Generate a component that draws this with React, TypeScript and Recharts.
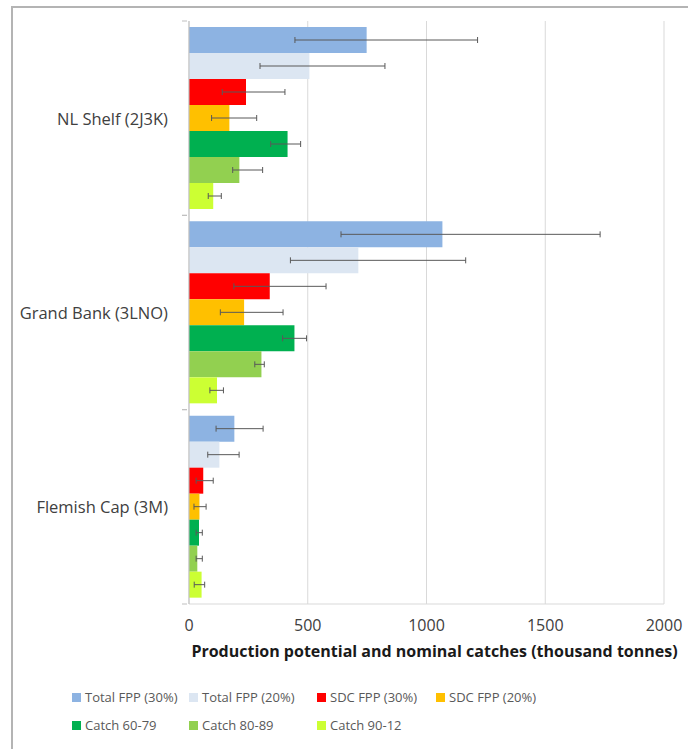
import { BarChart, Bar, XAxis, YAxis, CartesianGrid, ErrorBar, Legend } from 'recharts';

const regions = ['NL Shelf (2J3K)', 'Grand Bank (3LNO)', 'Flemish Cap (3M)'];

// bar values and error-bar ends (thousand tonnes), one entry per region
const totalFpp30 = [748, 1067, 191];
const totalFpp30Low = [446, 640, 114];
const totalFpp30High = [1215, 1731, 312];

const totalFpp20 = [507, 713, 128];
const totalFpp20Low = [299, 427, 79];
const totalFpp20High = [825, 1165, 211];

const sdcFpp30 = [240, 340, 60];
const sdcFpp30Low = [140, 189, 30];
const sdcFpp30High = [404, 577, 102];

const sdcFpp20 = [170, 232, 44];
const sdcFpp20Low = [95, 132, 21];
const sdcFpp20High = [285, 396, 72];

const catch6079 = [415, 444, 42];
const catch6079Low = [344, 394, 30];
const catch6079High = [470, 495, 56];

const catch8089 = [212, 305, 35];
const catch8089Low = [184, 277, 30];
const catch8089High = [310, 317, 56];

const catch9012 = [102, 118, 53];
const catch9012Low = [81, 88, 22];
const catch9012High = [136, 145, 66];

const xTicks = [0, 500, 1000, 1500, 2000];

const series = [
    { key: 'total30', name: 'Total FPP (30%)', color: '#8db3e2', values: totalFpp30, low: totalFpp30Low, high: totalFpp30High },
    { key: 'total20', name: 'Total FPP (20%)', color: '#dce6f2', values: totalFpp20, low: totalFpp20Low, high: totalFpp20High },
    { key: 'sdc30', name: 'SDC FPP (30%)', color: '#ff0000', values: sdcFpp30, low: sdcFpp30Low, high: sdcFpp30High },
    { key: 'sdc20', name: 'SDC FPP (20%)', color: '#ffc000', values: sdcFpp20, low: sdcFpp20Low, high: sdcFpp20High },
    { key: 'c6079', name: 'Catch 60-79', color: '#00b050', values: catch6079, low: catch6079Low, high: catch6079High },
    { key: 'c8089', name: 'Catch 80-89', color: '#92d050', values: catch8089, low: catch8089Low, high: catch8089High },
    { key: 'c9012', name: 'Catch 90-12', color: '#ccff33', values: catch9012, low: catch9012Low, high: catch9012High },
];

const data = regions.map((region, i) => {
    const row: Record<string, any> = { region };
    series.forEach((s) => {
        row[s.key] = s.values[i];
        row[s.key + 'Err'] = [s.values[i] - s.low[i], s.high[i] - s.values[i]];
    });
    return row;
});

const W = 688;
const H = 749;
const MARGIN = { top: 21, right: 24, left: 0, bottom: 85 };
const X_AXIS_H = 60;
const BAND = (H - MARGIN.top - MARGIN.bottom - X_AXIS_H) / regions.length;
const FONT = '"Open Sans", sans-serif';

const RegionTick = ({ x, y, payload }: any) => (
    <g>
        <text x={x - 19} y={y} textAnchor="end" dominantBaseline="central" fontSize={16.5} fill="#404040">
            {payload.value}
        </text>
        <line x1={x - 5} x2={x} y1={y - BAND / 2} y2={y - BAND / 2} stroke="#bfbfbf" />
        <line x1={x - 5} x2={x} y1={y + BAND / 2} y2={y + BAND / 2} stroke="#bfbfbf" />
    </g>
);

const LegendBox = () => (
    <div style={{ display: 'grid', gridTemplateColumns: '117px 128px 119px 120px', rowGap: 10, fontSize: 13, color: '#595959', fontFamily: FONT }}>
        {series.map((s) => (
            <div key={s.key} style={{ display: 'flex', alignItems: 'center', height: 18 }}>
                <span style={{ width: 9, height: 9, background: s.color, marginRight: 4, display: 'inline-block' }} />
                <span>{s.name}</span>
            </div>
        ))}
    </div>
);

export default function App() {
    return (
        <div style={{ position: 'fixed', top: 0, left: 0, width: W, height: H, background: '#fff', overflow: 'hidden' }}>
            <div style={{ position: 'absolute', top: 6, left: 11, width: 720, height: 780, borderTop: '2px solid #b4b4b4', borderLeft: '2px solid #b4b4b4' }} />
            <BarChart
                width={W}
                height={H}
                data={data}
                layout="vertical"
                margin={MARGIN}
                barCategoryGap={6}
                barGap={0}
                style={{ fontFamily: FONT }}
            >
                <CartesianGrid horizontal={false} stroke="#d9d9d9" />
                <XAxis
                    type="number"
                    domain={[0, 2000]}
                    ticks={xTicks}
                    height={X_AXIS_H}
                    tick={{ fontSize: 16, fill: '#404040' }}
                    tickLine={false}
                    tickMargin={10}
                    axisLine={{ stroke: '#d9d9d9' }}
                    label={{ value: 'Production potential and nominal catches (thousand tonnes)', position: 'insideBottom', offset: 7, dx: 8, fontSize: 16, fontWeight: 700, fill: '#1a1a1a' }}
                />
                <YAxis
                    type="category"
                    dataKey="region"
                    width={189}
                    tick={<RegionTick />}
                    tickLine={false}
                    tickSize={0}
                    axisLine={{ stroke: '#bfbfbf' }}
                    interval={0}
                />
                <Legend
                    verticalAlign="middle"
                    content={<LegendBox />}
                    wrapperStyle={{ top: 688, left: 72, width: 520, height: 60 }}
                />
                {series.map((s) => (
                    <Bar key={s.key} dataKey={s.key} name={s.name} fill={s.color} isAnimationActive={false}>
                        <ErrorBar dataKey={s.key + 'Err'} direction="x" width={3} stroke="#595959" strokeWidth={1} isAnimationActive={false} />
                    </Bar>
                ))}
            </BarChart>
        </div>
    );
}
